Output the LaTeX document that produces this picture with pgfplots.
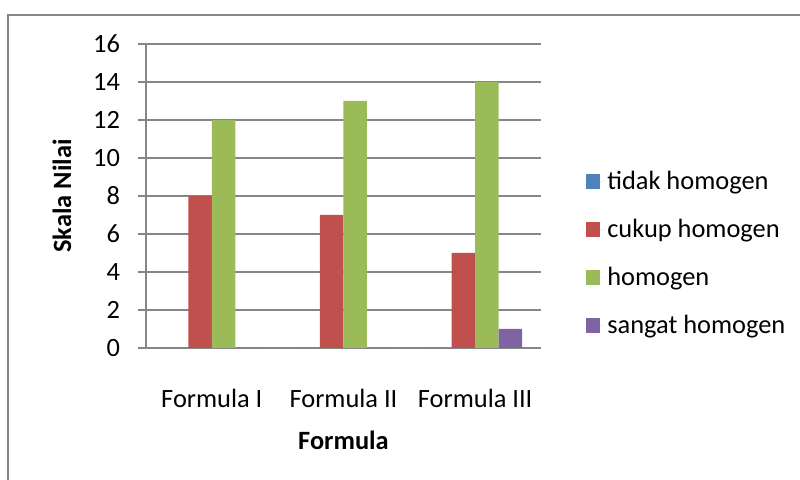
\documentclass[border=0pt]{standalone}
\usepackage{pgfplots}
\pgfplotsset{compat=1.18}
\usepackage{fontspec}
\setmainfont{Carlito}

\definecolor{sBlue}{HTML}{4F81BD}
\definecolor{sRed}{HTML}{C0504D}
\definecolor{sGreen}{HTML}{9BBB59}
\definecolor{sPurple}{HTML}{8064A2}
\definecolor{frameGray}{HTML}{868686}

\begin{document}
\begin{tikzpicture}[x=0.5pt,y=0.5pt]
\useasboundingbox (0,0) rectangle (800,480);
% chart frame
\draw[frameGray, line width=1pt] (8,-20) -- (8,465) -- (820,465);
\begin{axis}[
  at={(73pt,66pt)}, anchor=south west,
  scale only axis,
  width=197.5pt, height=152pt,
  font=\fontsize{13.2}{15.5}\selectfont,
  /pgf/number format/assume math mode=true,
  ybar=0pt, bar width=11.75pt,
  xmin=-0.5, xmax=2.5,
  ymin=0, ymax=16,
  ytick={0,2,...,16},
  xtick={0,1,2},
  xticklabels={Formula I, Formula II, Formula III},
  axis x line*=bottom,
  axis y line*=left,
  axis line style={frameGray, line width=0.6pt},
  ymajorgrids,
  grid style={frameGray, line width=0.6pt},
  tick align=outside,
  major tick length=4pt,
  ytick style={frameGray, line width=0.6pt},
  xtick style={draw=none},
  xticklabel style={anchor=center, yshift=-21pt},
  yticklabel style={anchor=east, xshift=-5.5pt},
  ylabel={\textbf{Skala Nilai}},
  xlabel={\textbf{Formula}},
  ylabel style={at={(axis description cs:-0.213,0.5)}, anchor=center},
  xlabel style={at={(axis description cs:0.5,-0.303)}, anchor=center},
  legend style={at={(1.097,0.61)}, anchor=north west, draw=none,
    fill=none, row sep=9.3pt, font=\fontsize{13.2}{15.5}\selectfont},
  legend cell align=left,
  legend image code/.code={\fill[#1] (0pt,-3.6pt) rectangle (7.2pt,3.6pt);
    \path (0pt,0pt) -- (8.8pt,0pt);},
  every axis plot/.append style={draw=none},
]
\addplot[fill=sBlue] coordinates {(0,0) (1,0) (2,0)};
\addplot[fill=sRed] coordinates {(0,8) (1,7) (2,5)};
\addplot[fill=sGreen] coordinates {(0,12) (1,13) (2,14)};
\addplot[fill=sPurple] coordinates {(0,0) (1,0) (2,1)};
\legend{tidak homogen, cukup homogen, homogen, sangat homogen}
\end{axis}
\end{tikzpicture}
\end{document}
